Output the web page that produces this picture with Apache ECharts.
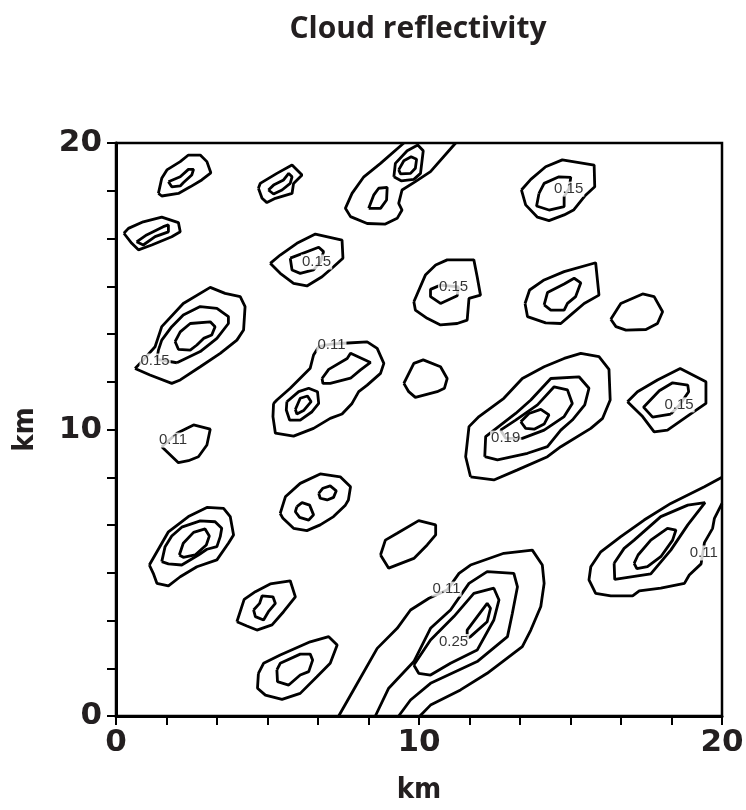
<!DOCTYPE html>
<html>
<head>
<meta charset="utf-8">
<script src="https://cdn.jsdelivr.net/npm/echarts@6/dist/echarts.min.js"></script>
<style>
  html, body { margin: 0; padding: 0; background: #fff; }
  #chart { width: 746px; height: 810px; }
</style>
</head>
<body>
<div id="chart"></div>
<script>
// contour rings in km (x, y)
const blobTL_out = [[1.40,18.24],[1.51,18.77],[1.68,19.06],[2.12,19.35],[2.39,19.58],[2.78,19.58],[3.00,19.35],[3.13,18.96],[2.83,18.71],[2.45,18.47],[2.06,18.24],[1.51,18.15]];
const blobTL_in = [[1.73,18.65],[2.12,18.82],[2.39,19.08],[2.56,19.08],[2.50,18.88],[2.22,18.61],[2.12,18.50],[1.84,18.47]];
const blobT2_out = [[4.70,18.42],[4.76,18.59],[5.31,18.94],[5.81,19.23],[6.14,18.88],[5.86,18.59],[5.81,18.24],[5.26,18.07],[4.98,17.92],[4.82,18.07]];
const blobT2_in = [[5.03,18.36],[5.20,18.53],[5.53,18.71],[5.70,18.94],[5.81,18.82],[5.75,18.59],[5.48,18.36],[5.20,18.22]];
const blobL_out = [[0.26,16.85],[0.41,17.02],[0.90,17.25],[1.51,17.41],[2.06,17.22],[2.12,16.90],[1.84,16.73],[1.18,16.44],[0.74,16.27],[0.52,16.50]];
const blobL_in = [[0.68,16.55],[1.01,16.79],[1.56,17.08],[1.73,17.14],[1.73,16.90],[1.29,16.73],[0.90,16.44]];
const blob6_out = [[5.09,15.80],[5.42,16.09],[5.97,16.50],[6.58,16.82],[7.46,16.61],[7.49,15.98],[7.18,15.68],[6.80,15.33],[6.30,15.01],[5.86,15.10],[5.42,15.45]];
const blob6_in = [[5.75,15.98],[6.69,16.36],[6.85,16.21],[6.75,15.85],[6.52,15.57],[6.08,15.45],[5.81,15.57]];
const blob3_out = [[0.63,12.13],[1.12,11.90],[1.84,11.61],[2.12,11.73],[2.78,12.19],[3.44,12.66],[3.99,13.12],[4.21,13.47],[4.26,14.29],[4.10,14.64],[3.60,14.75],[3.11,14.96],[2.22,14.40],[1.51,13.59],[1.29,12.89],[0.90,12.43]];
const blob3_mid = [[2.01,12.33],[2.78,12.72],[3.33,13.18],[3.71,13.70],[3.71,13.94],[3.33,14.23],[2.78,14.29],[2.22,14.00],[1.84,13.59],[1.51,13.12],[1.40,12.77],[1.35,12.45]];
const blob3_in = [[1.95,13.07],[2.12,13.41],[2.45,13.70],[3.11,13.76],[3.27,13.59],[3.16,13.30],[2.89,13.18],[2.67,12.95],[2.45,12.77],[2.06,12.80]];
const blob2_out = [[1.51,9.40],[2.01,9.87],[2.56,10.16],[3.11,10.01],[3.00,9.46],[2.72,9.05],[2.39,8.91],[2.06,8.84]];
const blob7_out = [[5.20,10.91],[5.31,11.03],[5.75,11.44],[6.41,12.14],[6.52,12.60],[6.69,12.89],[7.10,12.98],[7.51,13.01],[8.29,13.06],[8.62,12.83],[8.84,12.31],[8.73,11.96],[8.29,11.55],[8.01,11.32],[7.79,10.91],[7.46,10.54],[7.07,10.39],[6.52,10.04],[5.86,9.77],[5.26,9.87],[5.18,10.45]];
const blob7_mid = [[5.64,10.97],[6.03,11.32],[6.36,11.44],[6.65,11.32],[6.69,10.91],[6.47,10.62],[6.08,10.33],[5.73,10.33],[5.62,10.68]];
const blob7_in = [[5.92,10.70],[6.08,11.09],[6.32,11.17],[6.44,10.97],[6.19,10.66],[5.97,10.54]];
const blob7_arm = [[6.80,11.78],[7.02,12.10],[7.63,12.48],[7.74,12.66],[8.40,12.34],[8.07,12.08],[7.74,11.79],[7.07,11.61],[7.02,11.55],[6.83,11.61]];
const blob8_out = [[5.42,7.07],[5.59,7.65],[6.08,8.12],[6.74,8.45],[7.40,8.35],[7.74,8.00],[7.67,7.54],[7.57,7.36],[7.18,6.96],[6.74,6.67],[6.30,6.47],[5.86,6.55],[5.51,6.90]];
const blob8_inA = [[6.69,7.77],[6.83,7.95],[7.07,8.03],[7.27,7.86],[7.18,7.63],[6.97,7.54],[6.74,7.60]];
const blob8_inB = [[5.97,7.31],[6.14,7.45],[6.39,7.36],[6.52,7.02],[6.36,6.84],[6.06,6.93],[5.92,7.13]];
const blob9_out = [[1.10,5.27],[1.73,6.43],[2.39,6.96],[3.00,7.28],[3.55,7.25],[3.77,6.96],[3.88,6.32],[3.71,6.03],[3.33,5.45],[2.67,5.21],[2.12,4.86],[1.73,4.54],[1.35,4.63],[1.23,4.98]];
const blob9_mid = [[1.51,5.39],[1.62,5.91],[1.84,6.28],[2.17,6.59],[2.78,6.81],[3.27,6.78],[3.49,6.55],[3.44,6.26],[3.33,5.91],[3.00,5.82],[2.72,5.62],[2.17,5.27],[1.73,5.31]];
const blob9_in = [[2.09,5.62],[2.22,6.03],[2.56,6.41],[2.94,6.53],[3.08,6.28],[2.98,5.97],[2.61,5.62],[2.22,5.54]];
const blob10_out = [[3.99,3.29],[4.23,4.07],[4.60,4.34],[5.09,4.61],[5.75,4.72],[5.92,4.16],[5.53,3.64],[5.15,3.18],[4.65,3.00],[4.32,3.14]];
const blob10_in = [[4.54,3.70],[4.74,3.93],[4.82,4.19],[5.18,4.16],[5.26,3.93],[5.03,3.64],[4.87,3.35],[4.60,3.47]];
const blob11_out = [[4.70,1.49],[4.87,1.84],[5.42,2.13],[6.41,2.59],[7.02,2.77],[7.30,2.48],[7.07,1.84],[6.63,1.37],[6.08,0.79],[5.48,0.58],[4.93,0.73],[4.67,0.97]];
const blob11_in = [[5.31,1.61],[5.42,1.84],[6.08,2.16],[6.41,2.16],[6.49,1.95],[6.36,1.55],[6.08,1.43],[5.70,1.08],[5.33,1.20]];
const blob12_out = [[8.73,5.62],[8.89,6.14],[9.28,6.38],[9.99,6.82],[10.55,6.67],[10.55,6.32],[10.27,5.97],[9.83,5.50],[9.00,5.16]];
const blob13_out = [[9.50,11.61],[9.83,12.31],[10.14,12.43],[10.71,12.19],[10.93,11.78],[10.84,11.44],[10.60,11.32],[9.88,11.12],[9.66,11.32]];
const blob14_out = [[11.70,8.35],[11.54,9.05],[11.65,10.10],[11.98,10.45],[12.80,11.09],[13.41,11.78],[14.13,12.19],[14.79,12.48],[15.34,12.66],[15.94,12.54],[16.27,12.10],[16.31,11.03],[16.06,10.39],[15.67,10.04],[14.68,9.40],[14.24,9.05],[13.25,8.59],[12.47,8.24]];
const blob14_mid = [[12.17,9.05],[12.20,9.75],[13.19,10.56],[13.69,11.03],[14.35,11.78],[15.28,11.84],[15.61,11.44],[15.47,10.86],[15.06,10.33],[14.68,9.98],[14.24,9.40],[13.58,9.17],[12.59,8.94]];
const blob14_in = [[12.69,9.98],[13.19,10.33],[13.91,10.86],[14.46,11.49],[14.90,11.38],[15.06,10.91],[14.79,10.45],[14.13,9.98],[13.41,9.69],[12.86,9.70]];
const blob14_core = [[13.36,10.27],[13.63,10.56],[14.02,10.70],[14.29,10.51],[14.13,10.19],[13.80,10.01],[13.52,10.04]];
const blob15_out = [[9.83,14.46],[10.21,15.39],[10.55,15.74],[10.93,15.92],[11.81,15.92],[11.92,15.33],[12.03,14.69],[11.65,14.58],[11.59,13.82],[11.26,13.70],[10.71,13.65],[10.27,13.88],[9.88,14.17]];
const blob15_in = [[10.71,15.04],[10.38,14.89],[10.38,14.64],[10.71,14.40],[11.26,14.67],[11.30,14.98]];
const blob16_out = [[9.50,20],[8.73,19.29],[8.18,18.82],[7.79,18.24],[7.57,17.72],[7.74,17.43],[8.29,17.19],[8.89,17.17],[9.28,17.37],[9.44,17.66],[9.33,17.89],[9.44,18.36],[9.88,18.65],[10.38,19.00],[11.21,20]];
const blob16_low = [[8.34,17.72],[8.51,18.19],[8.67,18.42],[8.95,18.45],[8.93,18.01],[8.73,17.72]];
const blob16_mid = [[9.17,18.82],[9.22,19.29],[9.61,19.73],[9.96,19.93],[10.14,19.73],[10.05,18.94],[9.83,18.73],[9.41,18.68]];
const blob16_in = [[9.33,19.06],[9.50,19.38],[9.74,19.52],[9.92,19.43],[9.88,19.12],[9.72,18.94],[9.39,18.92]];
const blob17_out = [[13.38,18.36],[13.69,18.73],[14.18,19.17],[14.73,19.41],[15.78,19.23],[15.80,18.47],[15.47,18.15],[15.10,17.66],[14.79,17.49],[14.29,17.29],[13.91,17.41],[13.52,17.84]];
const blob17_in = [[13.96,18.24],[14.13,18.59],[14.62,18.82],[15.01,18.80],[14.95,18.40],[14.79,18.13],[14.79,17.78],[14.29,17.66],[13.88,17.80]];
const blob18_out = [[13.50,14.40],[13.65,14.87],[14.13,15.22],[14.79,15.51],[15.83,15.82],[15.94,14.69],[15.45,14.40],[15.01,14.00],[14.68,13.70],[14.18,13.72],[13.58,13.94]];
const blob18_in = [[14.13,14.35],[14.24,14.78],[14.79,15.08],[15.12,15.28],[15.34,15.12],[15.17,14.64],[14.90,14.40],[14.79,14.17],[14.35,14.17]];
const blob19_out = [[16.33,13.85],[16.66,14.40],[17.38,14.73],[17.76,14.64],[18.04,14.11],[17.87,13.70],[17.49,13.49],[16.83,13.47],[16.50,13.59]];
const blob20_out = [[16.88,10.97],[17.21,11.32],[17.87,11.73],[18.62,12.13],[19.47,11.67],[19.47,10.91],[18.92,10.51],[18.20,9.98],[17.76,9.92],[17.38,10.45]];
const blob20_in = [[18.31,10.54],[17.71,10.43],[17.41,10.78],[17.93,11.35],[18.37,11.63],[18.87,11.55],[18.90,11.32],[18.60,10.86]];
const blob21_out = [[20,8.33],[19.42,8.00],[18.31,7.42],[17.43,6.84],[16.66,6.26],[16.00,5.73],[15.67,5.21],[15.61,4.75],[15.83,4.28],[16.33,4.19],[17.05,4.19],[17.27,4.37],[17.98,4.46],[18.76,4.63],[18.92,4.92],[19.31,5.31],[19.42,6.05],[19.69,6.55],[19.75,6.90],[20,7.42]];
const blob21_mid = [[16.44,5.33],[16.46,4.77],[17.65,4.96],[18.31,5.79],[18.87,6.67],[19.44,7.45],[18.87,7.36],[17.98,6.96],[17.10,6.14],[16.77,5.85]];
const blob21_in = [[17.10,5.33],[17.23,5.62],[17.65,6.14],[18.20,6.55],[18.48,6.49],[18.37,6.14],[17.98,5.56],[17.54,5.21],[17.19,5.14]];
const blobB_out = [[7.35,0],[7.90,1.02],[8.62,2.36],[9.28,3.06],[9.72,3.70],[10.33,4.11],[10.93,4.40],[11.32,4.98],[11.70,5.27],[12.80,5.68],[13.74,5.79],[14.07,5.27],[14.13,4.63],[14.02,3.82],[13.69,3.00],[13.41,2.42],[12.25,1.49],[11.37,0.91],[10.38,0.38],[10.03,0]];
const blobB_mid = [[8.56,0],[9.00,0.97],[9.83,1.90],[10.38,3.06],[11.04,3.70],[11.65,4.63],[12.25,5.04],[13.13,4.98],[13.25,4.51],[13.08,3.58],[12.92,2.77],[11.92,1.90],[10.38,1.14],[9.72,0.56],[9.33,0]];
const blobB_in = [[9.83,1.78],[9.99,1.49],[10.38,1.43],[11.04,1.84],[11.92,2.30],[12.47,3.35],[12.64,4.05],[12.47,4.46],[11.81,4.28],[11.15,3.47],[10.38,2.65]];
const blobB_core = [[11.59,2.71],[11.59,3.00],[12.25,3.93],[12.36,3.76],[12.25,3.29],[11.70,2.77]];

// rings that close on themselves
const closedRings = [blobTL_out, blobTL_in, blobT2_out, blobT2_in, blobL_out, blobL_in, blob6_out, blob6_in,
  blob3_out, blob3_mid, blob3_in, blob2_out, blob7_out, blob7_mid, blob7_in, blob7_arm,
  blob8_out, blob8_inA, blob8_inB, blob9_out, blob9_mid, blob9_in, blob10_out, blob10_in,
  blob11_out, blob11_in, blob12_out, blob13_out, blob14_out, blob14_mid, blob14_in, blob14_core,
  blob15_out, blob15_in, blob16_low, blob16_mid, blob16_in, blob17_out, blob17_in,
  blob18_out, blob18_in, blob19_out, blob20_out, blob20_in, blob21_mid, blob21_in,
  blobB_in, blobB_core];
// lines that run into the frame
const openLines = [blob16_out, blob21_out, blobB_out, blobB_mid];

// contour labels
const labelText = ["0.15", "0.15", "0.15", "0.11", "0.15", "0.11", "0.19", "0.15", "0.11", "0.25", "0.11"];
const labelX = [6.62, 11.14, 14.94, 7.11, 1.29, 1.88, 12.86, 18.58, 10.91, 11.14, 19.40];
const labelY = [15.85, 14.97, 18.39, 12.95, 12.39, 9.63, 9.70, 10.86, 4.43, 2.60, 5.69];

const xTicks = ["0", "10", "20"];

let chart = echarts.init(document.getElementById("chart"));

let series = [];
closedRings.forEach(r => {
  series.push({
    type: "line",
    data: r.concat([r[0]]),
    symbol: "none",
    silent: true,
    lineStyle: { color: "#000", width: 2.8 },
    z: 2
  });
});
openLines.forEach(r => {
  series.push({
    type: "line",
    data: r,
    symbol: "none",
    silent: true,
    lineStyle: { color: "#000", width: 2.8 },
    z: 2
  });
});
series.push({
  type: "scatter",
  symbolSize: 0,
  z: 5,
  data: labelText.map((t, i) => ({ name: t, value: [labelX[i], labelY[i]] })),
  label: {
    show: true,
    position: "inside",
    formatter: p => p.name,
    fontFamily: "Liberation Sans",
    fontSize: 15,
    color: "#000",
    backgroundColor: "#fff",
    padding: [0, 1]
  }
});

function tickLabel(v) {
  let r = Math.round(v / 10) * 10;
  if (Math.abs(v - r) < 1e-6 && xTicks.indexOf(String(r)) >= 0) return String(r);
  return "";
}

let axisCommon = {
  type: "value",
  min: 0,
  max: 20,
  interval: 20 / 12,
  nameLocation: "middle",
  nameTextStyle: {
    fontFamily: "DejaVu Sans Condensed",
    fontWeight: "bold",
    fontSize: 29,
    color: "#231f20"
  },
  axisLine: { show: true, lineStyle: { color: "#000", width: 3 } },
  axisTick: { show: true, inside: false, length: 9, lineStyle: { color: "#000", width: 2 } },
  axisLabel: {
    formatter: tickLabel,
    fontFamily: "DejaVu Sans",
    fontWeight: "bold",
    fontSize: 31,
    color: "#231f20",
    showMinLabel: true,
    showMaxLabel: true
  },
  splitLine: { show: false }
};

let option = {
  animation: false,
  backgroundColor: "#fff",
  title: {
    text: "Cloud reflectivity",
    left: 413,
    top: 9,
    textAlign: "center",
    textStyle: {
      fontFamily: "Open Sans",
      fontWeight: "bold",
      fontSize: 30,
      color: "#231f20"
    }
  },
  grid: {
    left: 116,
    right: 24,
    top: 143,
    bottom: 94,
    outerBoundsMode: "none",
    containLabel: false,
    show: true,
    borderColor: "#000",
    borderWidth: 2.5
  },
  xAxis: Object.assign({}, axisCommon, {
    name: "km",
    nameGap: 60,
    axisLabel: Object.assign({}, axisCommon.axisLabel, { margin: 11 })
  }),
  yAxis: Object.assign({}, axisCommon, {
    name: "km",
    nameGap: 76,
    nameRotate: 90,
    axisLabel: Object.assign({}, axisCommon.axisLabel, { margin: 14 })
  }),
  series: series
};
chart.setOption(option);
</script>
</body>
</html>
